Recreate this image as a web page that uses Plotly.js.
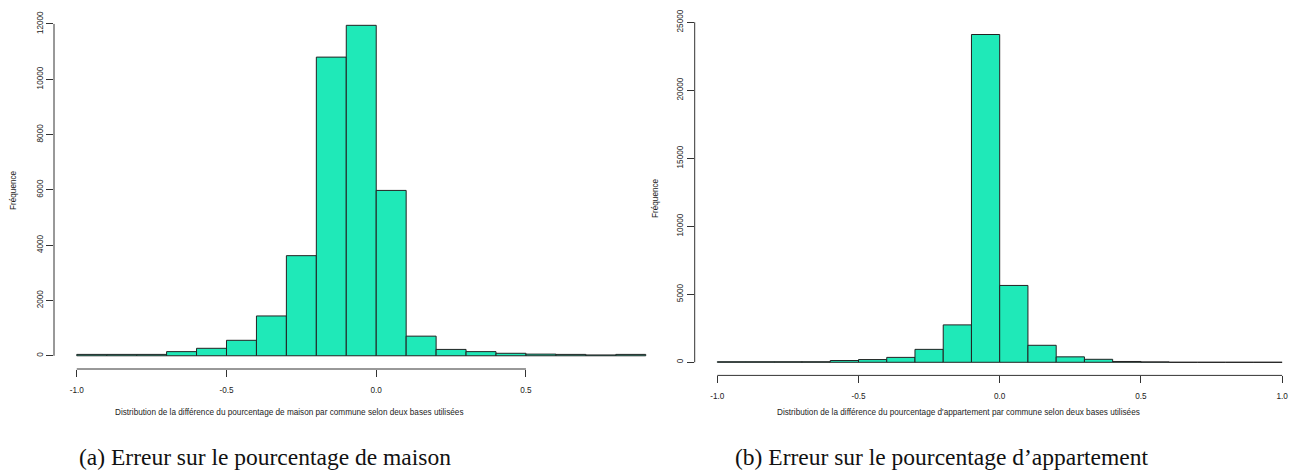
<!DOCTYPE html>
<html>
<head>
<meta charset="utf-8">
<script src="https://cdn.plot.ly/plotly-3.0.1.min.js"></script>
<style>html,body{margin:0;padding:0;background:#fff;}#chart{width:1292px;height:472px;}</style>
</head>
<body>
<div id="chart"></div>
<script>
// ---- Data ----
// (a) maison: bins of width 0.1 starting at these edges
const binStartsMaison = [-1.0,-0.9,-0.8,-0.7,-0.6,-0.5,-0.4,-0.3,-0.2,-0.1,0.0,0.1,0.2,0.3,0.4,0.5,0.6,0.7,0.8];
const countsMaison    = [50,50,50,150,270,560,1440,3620,10800,11950,5980,710,230,150,90,60,50,30,50];
// (b) appartement
const binStartsAppart = [-1.0,-0.9,-0.8,-0.7,-0.6,-0.5,-0.4,-0.3,-0.2,-0.1,0.0,0.1,0.2,0.3,0.4,0.5,0.6,0.7,0.8,0.9];
const countsAppart    = [40,40,40,40,130,200,360,950,2750,24100,5650,1250,400,220,60,30,0,0,0,0];
const binWidth = 0.1;

const xTicksMaison  = [-1.0,-0.5,0.0,0.5];
const xLabelsMaison = ["-1.0","-0.5","0.0","0.5"];
const yTicksMaison  = [0,2000,4000,6000,8000,10000,12000];
const xTicksAppart  = [-1.0,-0.5,0.0,0.5,1.0];
const xLabelsAppart = ["-1.0","-0.5","0.0","0.5","1.0"];
const yTicksAppart  = [0,5000,10000,15000,20000,25000];

const xTitleMaison = "Distribution de la différence du pourcentage de maison par commune selon deux bases utilisées";
const xTitleAppart = "Distribution de la différence du pourcentage d'appartement par commune selon deux bases utilisées";
const yTitle = "Fréquence";
const captionA = "(a) Erreur sur le pourcentage de maison";
const captionB = "(b) Erreur sur le pourcentage d’appartement";

// ---- Rendering ----
const W = 1292, H = 472;
const fill = "#1fe9b8";
const edge = "#222222";
const axisCol = "#333333";
const small = {family: "Liberation Sans, Arial, sans-serif", size: 8.2, color: "#222"};
const capFont = {family:"Liberation Serif, Times New Roman, serif", size:23.5, color:"#111"};

const centers = (starts) => starts.map(s => +(s + binWidth/2).toFixed(4));

const traces = [
  {type:"bar", x:centers(binStartsMaison), y:countsMaison, width:binWidth, xaxis:"x", yaxis:"y",
   marker:{color:fill, line:{color:edge, width:1}}, hoverinfo:"x+y"},
  {type:"bar", x:centers(binStartsAppart), y:countsAppart, width:binWidth, xaxis:"x2", yaxis:"y2",
   marker:{color:fill, line:{color:edge, width:1}}, hoverinfo:"x+y"}
];

const maxM = Math.max(...countsMaison), maxA = Math.max(...countsAppart);
const px = v => v / W, py = v => 1 - v / H;

const commonX = {showgrid:false, zeroline:false, showline:false, ticks:"outside", ticklen:7, tickwidth:1,
  tickcolor:axisCol, tickfont:small, tickmode:"array", ticklabelstandoff:6, automargin:false, fixedrange:true};
const commonY = {showgrid:false, zeroline:false, showline:false, ticks:"outside", ticklen:7, tickwidth:1,
  tickcolor:axisCol, tickfont:small, tickmode:"array", tickangle:-90, automargin:false, fixedrange:true};

const layout = {
  width: W, height: H,
  margin: {l:0, r:0, t:0, b:0},
  paper_bgcolor:"#fff", plot_bgcolor:"#fff",
  showlegend:false, bargap:0,
  xaxis: Object.assign({}, commonX, {domain:[px(54), px(668.5)], range:[-1.076, 0.976],
          tickvals:xTicksMaison, ticktext:xLabelsMaison, anchor:"y"}),
  yaxis: Object.assign({}, commonY, {domain:[py(369), py(12.1)], range:[-0.04*maxM, 1.04*maxM],
          tickvals:yTicksMaison, ticktext:yTicksMaison.map(String), anchor:"x"}),
  xaxis2: Object.assign({}, commonX, {domain:[px(694.7), 1], range:[-1.08, 1.035],
          tickvals:xTicksAppart, ticktext:xLabelsAppart, anchor:"y2"}),
  yaxis2: Object.assign({}, commonY, {domain:[py(375.4), py(21.4)], range:[-0.04*maxA, 1.04*maxA],
          tickvals:yTicksAppart, ticktext:yTicksAppart.map(String), anchor:"x2"}),
  shapes: [
    {type:"line", xref:"x", yref:"y domain", x0:xTicksMaison[0], x1:xTicksMaison[xTicksMaison.length-1], y0:0, y1:0, line:{color:axisCol, width:1}},
    {type:"line", xref:"x domain", yref:"y", x0:0, x1:0, y0:yTicksMaison[0], y1:yTicksMaison[yTicksMaison.length-1], line:{color:axisCol, width:1}},
    {type:"line", xref:"x2", yref:"y2 domain", x0:xTicksAppart[0], x1:xTicksAppart[xTicksAppart.length-1], y0:0, y1:0, line:{color:axisCol, width:1}},
    {type:"line", xref:"x2 domain", yref:"y2", x0:0, x1:0, y0:yTicksAppart[0], y1:yTicksAppart[yTicksAppart.length-1], line:{color:axisCol, width:1}}
  ],
  annotations: [
    {text:xTitleMaison, xref:"paper", yref:"paper", x:px(289), y:py(412), showarrow:false, font:small, xanchor:"center", yanchor:"middle"},
    {text:xTitleAppart, xref:"paper", yref:"paper", x:px(958), y:py(412), showarrow:false, font:small, xanchor:"center", yanchor:"middle"},
    {text:yTitle, xref:"paper", yref:"paper", x:px(13), y:py(190), showarrow:false, font:small, textangle:-90, xanchor:"center", yanchor:"middle"},
    {text:yTitle, xref:"paper", yref:"paper", x:px(655), y:py(198), showarrow:false, font:small, textangle:-90, xanchor:"center", yanchor:"middle"},
    {text:captionA, xref:"paper", yref:"paper", x:px(265), y:py(457), showarrow:false, font:capFont, xanchor:"center", yanchor:"middle"},
    {text:captionB, xref:"paper", yref:"paper", x:px(941), y:py(457), showarrow:false, font:capFont, xanchor:"center", yanchor:"middle"}
  ]
};

Plotly.newPlot("chart", traces, layout, {displayModeBar:false, staticPlot:true});
</script>
</body>
</html>
